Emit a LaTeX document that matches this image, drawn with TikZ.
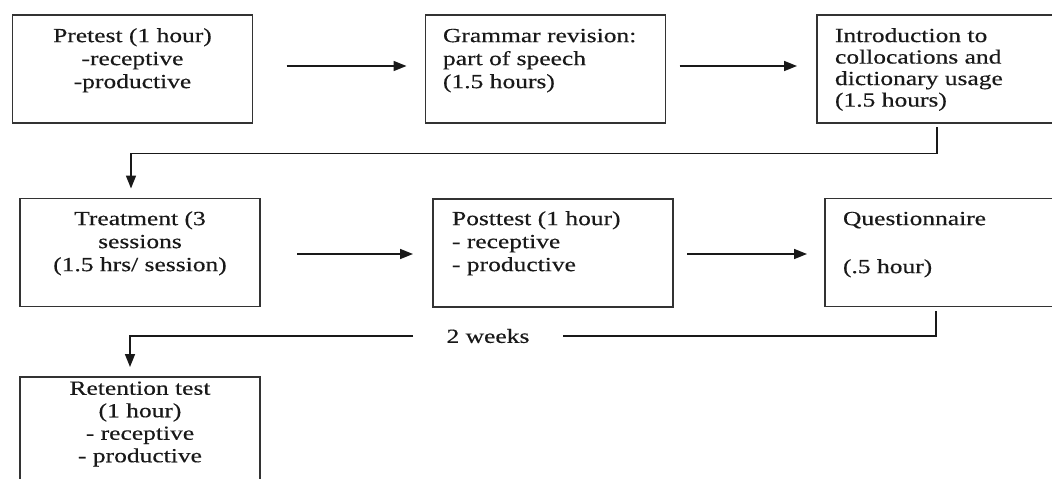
\documentclass[tikz,border=0pt]{standalone}
\usepackage{fontspec}
\setmainfont{Liberation Serif}[FakeStretch=1.275,FakeBold=0.4]
\usetikzlibrary{arrows.meta,calc}
\begin{document}
\begin{tikzpicture}[x=1pt,y=-1pt,
  box/.style={draw=black!80, line width=1.6pt, minimum width=240pt, minimum height=108pt, inner sep=0pt, outer sep=0pt},
  txt/.style={inner sep=0pt, outer sep=0pt, font=\fontsize{20pt}{23pt}\selectfont, text=black!90},
  conn/.style={draw=black!90, line width=1.7pt},
  arr/.style={conn, -{Triangle[length=13pt,width=10pt]}}]
\useasboundingbox (0,0) rectangle (1052,479);
\clip (0,0) rectangle (1052,479);
% boxes
\node[box] (pre)   at (132.5,69)  {};
\node[box] (gram)  at (545.5,69)  {};
\node[box] (intro) at (937,69)    {};
\node[box] (treat) at (140,252.5) {};
\node[box] (post)  at (553,253)   {};
\node[box] (quest) at (945,252.5) {};
\node[box] (ret)   at (140,431)   {};
% texts
\node[txt, align=center, anchor=north] (preT) at (132.5,26) {\strut Pretest (1 hour)\\-receptive\\-productive};
\node[txt, align=left, anchor=north west] (gramT) at (443,26) {\strut Grammar revision:\\part of speech\\(1.5 hours)};
\node[txt, align=left, anchor=north west, font=\fontsize{20pt}{21.5pt}\selectfont] (introT) at (835,27) {\strut Introduction to\\collocations and\\dictionary usage\\(1.5 hours)};
\node[txt, align=center, anchor=north] (treatT) at (140,209) {\strut Treatment (3\\sessions\\(1.5 hrs/ session)};
\node[txt, align=left, anchor=north west] (postT) at (452,209) {\strut Posttest (1 hour)\\- receptive\\- productive};
\node[txt, align=left, anchor=north west] (questT) at (843,209) {\strut Questionnaire\\[25pt](.5 hour)};
\node[txt, align=center, anchor=north, font=\fontsize{20pt}{22.5pt}\selectfont] (retT) at (140,379) {\strut Retention test\\(1 hour)\\- receptive\\- productive};
% horizontal arrows
\draw[arr] ($(pre.east)+(34,-3)$) -- ($(gram.west)+(-19,-3)$);
\draw[arr] ($(gram.east)+(14,-3)$) -- ($(intro.west)+(-20,-3)$);
\draw[arr] ($(treat.east)+(37,1.5)$) -- ($(post.west)+(-20,1)$);
\draw[arr] ($(post.east)+(14,1)$) -- ($(quest.west)+(-18,1.5)$);
% connector row 1 -> row 2
\draw[arr] ($(intro.south)+(0,4)$) |- ($(treat.north)+(-9,-45)$) -- ($(treat.north)+(-9,-10)$);
% connector row 2 -> retention with label
\node[txt, inner xsep=33.5pt] (wk) at (488,336) {2 weeks};
\draw[conn] ($(quest.south)+(-9,4.5)$) |- (wk.east);
\draw[arr] (wk.west) -- ($(ret.north)+(-10,-41)$) -- ($(ret.north)+(-10,-10)$);
\end{tikzpicture}
\end{document}
